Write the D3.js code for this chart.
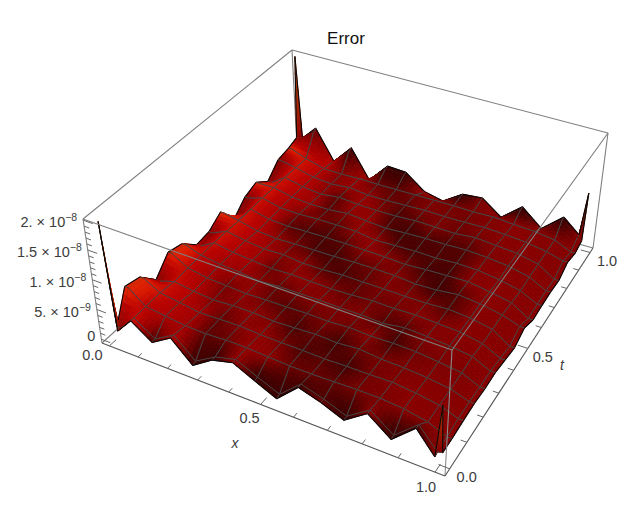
<!DOCTYPE html>
<html><head><meta charset="utf-8">
<script src="https://cdnjs.cloudflare.com/ajax/libs/d3/7.8.5/d3.min.js"></script>
<style>html,body{margin:0;padding:0;background:#fff}svg{display:block}text{font-family:"Liberation Sans",Arial,sans-serif}</style>
</head><body><svg id="c" width="642" height="508"></svg>
<script>
const chartTitle = "Error";
const xSamples = [0,0.014,0.0667,0.1333,0.2,0.2667,0.3333,0.4,0.4667,0.5333,0.6,0.6667,0.7333,0.8,0.8667,0.9333,0.986,1];
const tSamples = [0,0.014,0.0667,0.1333,0.2,0.2667,0.3333,0.4,0.4667,0.5333,0.6,0.6667,0.7333,0.8,0.8667,0.9333,0.986,1];
// error values in units of 1e-9, one row per t sample (x left to right)
const row00=[19.4,1.2,3.9,1.5,3.5,0.2,2.4,3.3,1.6,0.0,3.3,2.2,0.7,3.3,0.5,3.9,0.4,9.3];
const row01=[1.2,1.2,3.9,1.6,3.5,0.4,2.4,3.3,1.7,0.2,3.3,2.2,0.8,3.3,0.6,3.9,0.6,0.8];
const row02=[6.2,6.2,4.0,3.6,3.2,3.1,3.3,3.3,3.1,2.9,2.9,3.0,3.1,3.1,2.8,2.1,0.8,0.8];
const row03=[5.6,5.6,4.1,3.6,3.1,3.2,3.3,3.1,3.0,3.0,2.9,3.0,3.0,3.1,2.7,2.1,1.0,1.0];
const row04=[3.0,3.0,3.8,3.3,3.0,3.2,3.2,3.0,3.1,3.3,3.1,3.4,3.0,2.9,2.6,2.1,1.1,1.1];
const row05=[5.6,5.6,4.0,3.4,3.2,3.0,3.1,3.1,3.2,3.1,3.3,3.1,3.2,3.1,2.7,2.2,0.9,0.9];
const row06=[5.0,5.0,4.1,3.6,3.4,3.0,3.2,3.2,3.2,3.1,3.1,2.9,3.4,3.2,2.9,2.4,1.0,1.0];
const row07=[2.8,2.8,4.2,3.6,3.3,3.0,3.1,3.0,2.9,3.0,3.2,3.1,3.2,3.0,2.8,2.1,0.6,0.6];
const row08=[3.1,3.1,4.2,3.6,3.2,3.3,2.9,2.9,3.1,3.0,3.0,2.9,2.9,3.1,2.8,2.1,0.2,0.2];
const row09=[4.6,4.6,4.1,3.3,3.0,3.1,3.1,3.1,3.2,3.2,3.1,2.8,2.9,3.3,2.9,2.2,1.2,1.2];
const row10=[1.5,1.5,4.2,3.4,3.2,3.3,3.3,3.3,3.2,3.1,2.9,3.1,3.2,3.3,2.7,2.0,0.2,0.2];
const row11=[3.5,3.5,4.3,3.5,3.4,3.5,3.5,3.4,2.9,3.0,3.1,3.0,3.2,3.1,2.6,1.8,0.4,0.4];
const row12=[4.3,4.3,4.3,3.6,3.3,3.3,3.6,3.3,3.0,3.2,3.3,3.3,3.4,3.2,2.8,2.0,0.5,0.5];
const row13=[2.7,2.7,4.3,3.6,3.2,3.6,3.3,3.2,3.2,3.4,3.3,3.2,3.5,3.2,2.9,2.1,0.3,0.3];
const row14=[4.8,4.8,4.3,3.5,3.2,3.5,3.1,3.1,3.2,3.3,3.2,3.2,3.3,3.1,2.8,2.2,1.4,1.4];
const row15=[5.2,5.2,4.2,3.3,3.2,3.3,3.2,3.2,3.2,3.2,3.2,3.1,3.2,2.9,2.7,2.2,0.9,0.9];
const row16=[5.8,5.8,7.6,3.0,6.0,1.5,4.6,4.4,2.1,1.4,3.4,3.6,1.3,4.0,1.3,4.2,1.9,1.5];
const row17=[20.0,5.5,8.0,2.9,6.2,1.3,4.7,4.5,2.0,1.2,3.4,3.7,1.2,4.1,1.2,4.3,1.9,9.7];
const errorRows=[row00,row01,row02,row03,row04,row05,row06,row07,row08,row09,row10,row11,row12,row13,row14,row15,row16,row17];
const xTickLabels=[{v:0,s:"0.0"},{v:0.5,s:"0.5"},{v:1,s:"1.0"}];
const tTickLabels=[{v:0,s:"0.0"},{v:0.5,s:"0.5"},{v:1,s:"1.0"}];
const zTickLabels=[{v:20,m:"2.",e:"-8"},{v:15,m:"1.5",e:"-8"},{v:10,m:"1.",e:"-8"},{v:5,m:"5.",e:"-9"},{v:0,m:"0",e:null}];

function homography(q){
  const [[x0,y0],[x1,y1],[x2,y2],[x3,y3]]=q;
  const dx1=x1-x2,dx2=x3-x2,dy1=y1-y2,dy2=y3-y2,sx=x0-x1+x2-x3,sy=y0-y1+y2-y3;
  const den=dx1*dy2-dx2*dy1,g=(sx*dy2-dx2*sy)/den,h=(dx1*sy-sx*dy1)/den;
  const a=x1-x0+g*x1,b=x3-x0+h*x3,d=y1-y0+g*y1,e=y3-y0+h*y3;
  return (u,v)=>{const w=g*u+h*v+1;return [(a*u+b*v+x0)/w,(d*u+e*v+y0)/w];};
}
const floorH=homography([[102,343],[445,476],[593,248],[298,166]]);
const roofH=homography([[83,219],[452,350],[608,133],[292,50]]);
const sx=d3.scaleLinear().domain([0,1]).range([0.025,0.975]);
const st=d3.scaleLinear().domain([0,1]).range([0.025,0.975]);
const sz=d3.scaleLinear().domain([0,20]).range([0.03,0.99]);
function boxP(u,v,w){const a=floorH(u,v),b=roofH(u,v);return [a[0]+(b[0]-a[0])*w,a[1]+(b[1]-a[1])*w];}
const P=(x,t,v)=>boxP(sx(x),st(t),sz(v));

const svg=d3.select("#c");
const line=d3.line();
const seg=(g,a,b,col,w)=>g.append("path").attr("d",line([a,b])).attr("fill","none").attr("stroke",col).attr("stroke-width",w);

const back=svg.append("g");
const GR="#7f7f7f";
seg(back,boxP(0,1,1),boxP(0,0,1),GR,1.1);
seg(back,boxP(0,1,1),boxP(1,1,1),GR,1.1);
seg(back,boxP(0,1,1),boxP(0,1,0),GR,1.1);
seg(back,boxP(0,1,0),boxP(0,0,0),GR,1.1);
seg(back,boxP(0,1,0),boxP(1,1,0),GR,1.1);
seg(back,boxP(1,1,1),boxP(1,1,0),GR,1.1);

const N=xSamples.length,M=tSamples.length;
const Z=(i,j)=>sz(errorRows[j][i]);
const ramp=d3.scaleLinear().domain([0,0.2,0.45,0.72,0.85,1]).range(["#300000","#4c0000","#8c0000","#b80200","#d81800","#e42c04"]).clamp(true);
const orange=d3.rgb(205,105,15);
const span=(k,n)=>k<2?[k,2]:k>n-3?[n-3,k]:[Math.max(2,k-1),Math.min(n-3,k+1)];
const shade=[];
for(let j=0;j<M;j++){shade.push([]);for(let i=0;i<N;i++){
  const [il,ir]=span(i,N),[jl,jr]=span(j,M);
  const zx=(Z(ir,j)-Z(il,j))/(xSamples[ir]-xSamples[il]);
  const zt=(Z(i,jr)-Z(i,jl))/(tSamples[jr]-tSamples[jl]);
  const lit=Math.tanh(-3.5*zx-5*zt);
  const x=xSamples[i];
  const I=0.33+(lit>0?0.24*lit*(1-0.6*x):0.26*lit)+0.42*Math.exp(-x/0.13);
  const a=Math.max(0,i-1),b=Math.min(N-1,i+1),c=Math.max(0,j-1),d=Math.min(M-1,j+1);
  const steep=Math.hypot((Z(b,j)-Z(a,j))/(xSamples[b]-xSamples[a]),(Z(i,d)-Z(i,c))/(tSamples[d]-tSamples[c]));
  shade[j].push({I,o:Math.max(0,Math.min(1,(steep-8)/10))*(0.8-0.3*x)});
}}
const colorAt=(u,v,i,j)=>{
  const a=shade[j][i],b=shade[j][i+1],c=shade[j+1][i],d=shade[j+1][i+1];
  const I=(a.I*(1-u)+b.I*u)*(1-v)+(c.I*(1-u)+d.I*u)*v;
  const o=(a.o*(1-u)+b.o*u)*(1-v)+(c.o*(1-u)+d.o*u)*v;
  return d3.interpolateRgb(ramp(I),orange)(o);
};
const SUB=5;
const surf=svg.append("g");
const MESH="#474747";
for(let j=M-2;j>=0;j--){for(let i=0;i<N-1;i++){
  const g=surf.append("g");
  const pt=(u,v)=>{
    const x=xSamples[i]+(xSamples[i+1]-xSamples[i])*u,t=tSamples[j]+(tSamples[j+1]-tSamples[j])*v;
    const R=errorRows;
    const val=(R[j][i]*(1-u)+R[j][i+1]*u)*(1-v)+(R[j+1][i]*(1-u)+R[j+1][i+1]*u)*v;
    return P(x,t,val);
  };
  const cells=[];
  for(let b=SUB-1;b>=0;b--)for(let a=0;a<SUB;a++)cells.push({a,b});
  g.selectAll("path").data(cells).join("path")
   .attr("d",d=>{const u0=d.a/SUB,u1=(d.a+1)/SUB,v0=d.b/SUB,v1=(d.b+1)/SUB;
     return line([pt(u0,v0),pt(u1,v0),pt(u1,v1),pt(u0,v1)])+"Z";})
   .each(function(d){const c=colorAt((d.a+.5)/SUB,(d.b+.5)/SUB,i,j);d3.select(this).attr("fill",c).attr("stroke",c).attr("stroke-width",0.9);});
  const bT=j+1===M-1,bB=j===0,bL=i===0,bR=i+1===N-1;
  const edge=(a,b,onBoundary,show)=>{ if(onBoundary) seg(g,a,b,"#0a0a0a",1.1); else if(show) seg(g,a,b,MESH,1); };
  edge(pt(0,1),pt(1,1),bT,!(j+1===M-2));
  edge(pt(0,0),pt(0,1),bL,!(i===1));
  edge(pt(1,0),pt(1,1),bR,!(i+1===N-2));
  edge(pt(0,0),pt(1,0),bB,!(j===1));
}}

const front=svg.append("g");
seg(front,boxP(0,0,1),boxP(1,0,1),GR,1.1);
seg(front,boxP(1,0,1),boxP(1,1,1),GR,1.1);
seg(front,boxP(1,0,1),boxP(1,0,0),"#8c8c8c",1.1);
seg(front,boxP(0,0,0),boxP(0,0,1),GR,1.1);
seg(front,boxP(0,0,0),boxP(1,0,0),"#555",1.1);
seg(front,boxP(1,0,0),boxP(1,1,0),"#555",1.1);
const minor=d3.ticks(0,1,10);
minor.forEach(x=>{const L=(Math.abs(x*2-Math.round(x*2))<1e-6)?0.028:0.016;
  seg(front,boxP(sx(x),0,0),boxP(sx(x),L,0),"#666",1);});
minor.forEach(t=>{const L=(Math.abs(t*2-Math.round(t*2))<1e-6)?0.028:0.016;
  seg(front,boxP(1,st(t),0),boxP(1-L,st(t),0),"#666",1);});
d3.range(0,21).forEach(v=>{const L=v%5===0?0.03:0.016;
  seg(front,boxP(0,0,sz(v)),boxP(L,0,sz(v)),"#666",1);});

const txt=svg.append("g").attr("fill","#3c3c3c").attr("font-size",14.5);
const xOff=[[-17,9],[-11,14],[-9,15]], tOff=[[17,8],[15,9],[17,8]];
const label=(p,o,s)=>txt.append("text").attr("x",p[0]+o[0]).attr("y",p[1]+o[1]).attr("text-anchor","middle").attr("dominant-baseline","central").text(s);
xTickLabels.forEach((d,k)=>label(boxP(sx(d.v),0,0),xOff[k],d.s));
tTickLabels.forEach((d,k)=>label(boxP(1,st(d.v),0),tOff[k],d.s));
zTickLabels.forEach(d=>{
  const p=boxP(0,0,sz(d.v));
  const t=txt.append("text").attr("x",p[0]-6).attr("y",p[1]+(d.v===0?-3:2)).attr("text-anchor","end").attr("dominant-baseline","central");
  if(d.e){t.append("tspan").text(d.m+" \u00d7 10");t.append("tspan").attr("dy",-5).attr("font-size",10.5).text("\u2212"+d.e.slice(1));}
  else t.text(d.m);
});
txt.append("text").attr("x",235).attr("y",443).attr("text-anchor","middle").attr("dominant-baseline","central").attr("font-style","italic").attr("font-size",14).text("x");
txt.append("text").attr("x",562).attr("y",365).attr("text-anchor","middle").attr("dominant-baseline","central").attr("font-style","italic").attr("font-size",14).text("t");
svg.append("text").attr("x",346).attr("y",38).attr("text-anchor","middle").attr("dominant-baseline","central").attr("font-size",17).attr("fill","#111").text(chartTitle);
</script></body></html>
